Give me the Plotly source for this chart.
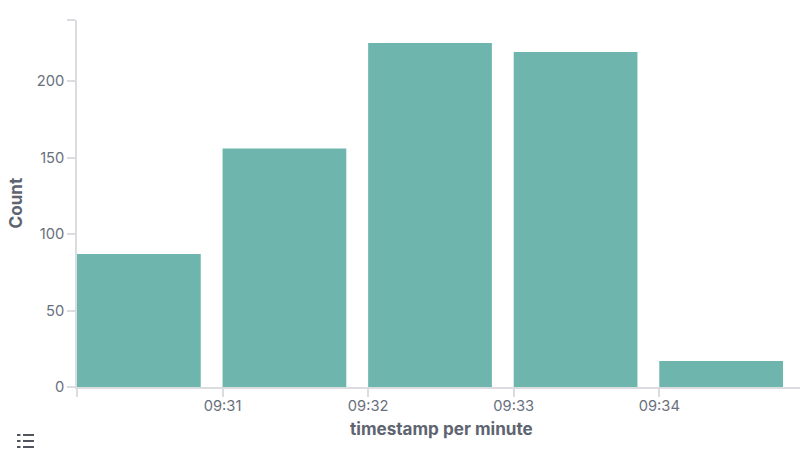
import plotly.graph_objects as go

minutes = ["2024-01-01 09:30", "2024-01-01 09:31", "2024-01-01 09:32", "2024-01-01 09:33", "2024-01-01 09:34"]
counts = [87, 156, 225, 219, 17]
x_tick_labels = ["", "09:31", "09:32", "09:33", "09:34"]
y_tick_values = [0, 50, 100, 150, 200, 240]
y_tick_labels = ["0", "50", "100", "150", "200", ""]
x_title = "timestamp per minute"
y_title = "Count"
MINUTE_MS = 60000
BAR_COLOR = "#6EB5AE"
AXIS_COLOR = "#DADCE0"
TICK_FONT = dict(family="Inter", size=14.7, color="#69707D")
TITLE_FONT = dict(family="Inter", size=17.1, color="#5E6470", weight="bold")

FIG_W, FIG_H = 800, 455
M_L, M_R, M_T, M_B = 77, 0, 20, 68

fig = go.Figure(go.Bar(
    x=minutes, y=counts, width=0.85 * MINUTE_MS, offset=0,
    marker=dict(color=BAR_COLOR, line=dict(width=0)),
))

fig.update_layout(
    width=FIG_W, height=FIG_H, autosize=False,
    margin=dict(l=M_L, r=M_R, t=M_T, b=M_B),
    paper_bgcolor="white", plot_bgcolor="white", showlegend=False,
    xaxis=dict(
        type="date",
        range=["2024-01-01 09:30:00", "2024-01-01 09:34:58"],
        tickmode="array", tickvals=minutes, ticktext=x_tick_labels,
        ticks="outside", ticklen=8, tickwidth=1.5, tickcolor=AXIS_COLOR, ticklabelstandoff=-3,
        showline=True, linecolor=AXIS_COLOR, linewidth=1.5, showgrid=False, zeroline=False,
        tickfont=TICK_FONT,
    ),
    yaxis=dict(
        range=[0, 240],
        tickmode="array", tickvals=y_tick_values, ticktext=y_tick_labels,
        ticks="outside", ticklen=8, tickwidth=1.5, tickcolor=AXIS_COLOR,
        showline=True, linecolor=AXIS_COLOR, linewidth=1.5, showgrid=False, zeroline=False,
        tickfont=TICK_FONT,
    ),
)

# Window pixels converted to paper fractions, for the axis titles and the legend icon.
plot_w, plot_h = FIG_W - M_L - M_R, FIG_H - M_T - M_B
def px(x): return (x - M_L) / plot_w
def py(y): return (FIG_H - M_B - y) / plot_h

fig.add_annotation(text=x_title, xref="paper", yref="paper", x=px(441), y=py(429), xanchor="center", yanchor="middle",
                   showarrow=False, font=TITLE_FONT)
fig.add_annotation(text=y_title, xref="paper", yref="paper", x=px(15), y=py(203.5), xanchor="center", yanchor="middle",
                   showarrow=False, font=TITLE_FONT, textangle=-90)

ICON = "#343741"
for row_y in (435, 441, 447):
    fig.add_shape(type="line", xref="paper", yref="paper", x0=px(17), x1=px(20.5), y0=py(row_y), y1=py(row_y),
                  line=dict(color=ICON, width=1.7))
    fig.add_shape(type="line", xref="paper", yref="paper", x0=px(23), x1=px(34), y0=py(row_y), y1=py(row_y),
                  line=dict(color=ICON, width=1.7))

fig.write_html("out.html", config={"displayModeBar": False},
               post_script="document.body.style.margin='0';")
